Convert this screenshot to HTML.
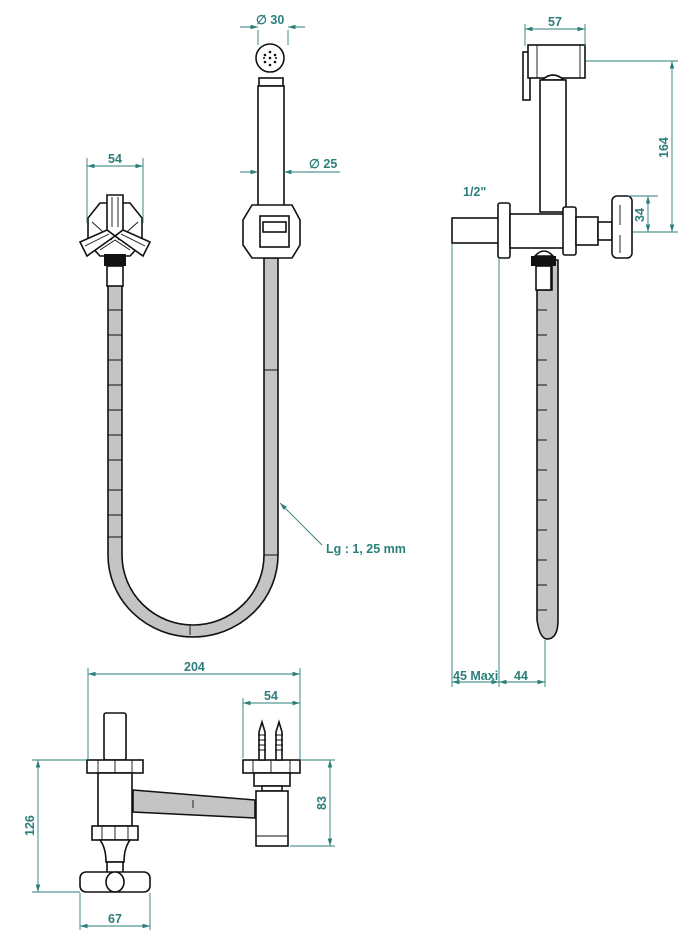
<!DOCTYPE html>
<html><head><meta charset="utf-8"><style>
html,body{margin:0;padding:0;background:#fff;}
svg{display:block;}
.t{font-family:"Liberation Sans",sans-serif;font-weight:bold;font-size:12.5px;fill:#2a7f7a;}
.d{stroke:#2a7f7a;stroke-width:0.9;fill:none;}
.k{stroke:#111;stroke-width:1.6;fill:#fff;}
.h{stroke:#111;stroke-width:1.6;fill:#c4c4c4;}
.l{stroke:#111;stroke-width:0.9;fill:none;}
</style></head><body>
<svg width="690" height="944" viewBox="0 0 690 944" xmlns="http://www.w3.org/2000/svg">
<defs>
<marker id="a" viewBox="0 0 10 6" refX="10" refY="3" markerWidth="9" markerHeight="5" orient="auto-start-reverse"><path d="M0,0 L10,3 L0,6 Z" fill="#2a7f7a"/></marker>
</defs>

<!-- ===== FRONT VIEW ===== -->
<path class="h" d="M108,285 L108,555 A85,82 0 0 0 278,555 L278,258 L264,258 L264,555 A71,70 0 0 1 122,555 L122,285 Z"/>
<g class="l">
<path d="M108,310h14M108,335h14M108,360h14M108,385h14M108,410h14M108,435h14M108,460h14M108,490h14M108,515h14M108,537h14"/>
<path d="M264,370h14M264,555h14M190,625v10"/>
</g>
<!-- left handle -->
<polygon class="k" points="100,203 130,203 142,218 142,243 130,256 100,256 88,243 88,218"/>
<path class="l" d="M92,222l20,18M138,222l-20,18M100,250l15,-10l15,10"/>
<polygon class="k" points="107,195 123,195 123,230 115,236 107,230"/>
<polygon class="k" points="115,236 107,230 80,242 87,256"/>
<polygon class="k" points="115,236 123,230 150,242 143,256"/>
<path class="l" d="M112,197v30M118,197v30M85,246l24,-12M145,246l-24,-12"/>
<rect x="104" y="254" width="22" height="12" fill="#111"/>
<rect class="k" x="107" y="266" width="16" height="20"/>
<!-- hand shower -->
<circle class="k" cx="270" cy="58" r="14"/>
<g fill="#111"><circle cx="270" cy="52" r="1.3"/><circle cx="265" cy="55" r="1.3"/><circle cx="275" cy="55" r="1.3"/><circle cx="270" cy="58" r="1.3"/><circle cx="265" cy="62" r="1.3"/><circle cx="275" cy="62" r="1.3"/><circle cx="270" cy="65" r="1.3"/><circle cx="264" cy="58" r="1"/><circle cx="276" cy="58" r="1"/></g>
<rect class="k" x="259" y="78" width="24" height="8"/>
<rect class="k" x="258" y="86" width="26" height="124"/>
<polygon class="k" points="252,205 292,205 300,220 300,245 292,258 252,258 243,245 243,220"/>
<rect class="k" x="260" y="216" width="29" height="31"/>
<rect class="k" x="263" y="222" width="23" height="10"/>
<!-- dims -->
<path class="d" d="M258,30v15M288,30v15" />
<line class="d" x1="240" y1="27" x2="258" y2="27" marker-end="url(#a)"/>
<line class="d" x1="305" y1="27" x2="288" y2="27" marker-end="url(#a)"/>
<text class="t" x="256" y="24">∅ 30</text>
<line class="d" x1="240" y1="172" x2="258" y2="172" marker-end="url(#a)"/>
<line class="d" x1="340" y1="172" x2="284" y2="172" marker-end="url(#a)"/>
<text class="t" x="309" y="168">∅ 25</text>
<path class="d" d="M87,158v65M143,158v65"/>
<line class="d" x1="87" y1="166" x2="143" y2="166" marker-start="url(#a)" marker-end="url(#a)"/>
<text class="t" x="108" y="163">54</text>
<line class="d" x1="322" y1="545" x2="280" y2="503" marker-end="url(#a)"/>
<text class="t" x="326" y="553">Lg : 1, 25 mm</text>

<!-- ===== SIDE VIEW ===== -->
<rect class="k" x="523" y="52" width="7" height="48"/>
<rect class="k" x="528" y="45" width="57" height="33"/>
<path class="l" d="M537,45v33M580,45v33"/>
<path class="k" d="M542,80 Q553,70 564,80 Z"/>
<rect class="k" x="540" y="80" width="26" height="132"/>
<rect class="k" x="452" y="218" width="48" height="25"/>
<rect class="k" x="498" y="203" width="12" height="55" rx="2"/>
<rect class="k" x="510" y="214" width="55" height="34"/>
<rect class="k" x="563" y="207" width="13" height="48" rx="2"/>
<rect class="k" x="576" y="217" width="22" height="28"/>
<rect class="k" x="598" y="222" width="14" height="18"/>
<rect class="k" x="612" y="196" width="20" height="62" rx="5"/>
<path class="l" d="M620,205v20M620,235v18"/>
<path class="h" d="M537,290 L537,620 Q540,640 548,639 Q558,638 558,620 L558,260 L552,260 L552,290 Z"/>
<g class="l"><path d="M537,310h10M537,335h10M537,360h10M537,385h10M537,410h10M537,440h10M537,470h10M537,500h10M537,530h10M537,560h10M537,585h10M537,610h10"/></g>
<path class="k" d="M535,256 Q544,246 553,256 Z"/>
<rect x="531" y="256" width="25" height="10" fill="#111"/>
<rect class="k" x="536" y="266" width="15" height="24"/>
<text class="t" x="463" y="196">1/2"</text>
<path class="d" d="M525,24v22M585,24v22"/>
<line class="d" x1="525" y1="29" x2="585" y2="29" marker-start="url(#a)" marker-end="url(#a)"/>
<text class="t" x="548" y="26">57</text>
<path class="d" d="M586,61h92M633,232h45M628,196h30"/>
<line class="d" x1="672" y1="61" x2="672" y2="232" marker-start="url(#a)" marker-end="url(#a)"/>
<text class="t" transform="translate(672,148) rotate(-90)" x="-10" y="-4">164</text>
<line class="d" x1="648" y1="196" x2="648" y2="232" marker-start="url(#a)" marker-end="url(#a)"/>
<text class="t" transform="translate(648,214) rotate(-90)" x="-8" y="-4">34</text>
<path class="d" d="M452,244v443M499,259v428M545,640v47"/>
<line class="d" x1="452" y1="682" x2="499" y2="682" marker-start="url(#a)" marker-end="url(#a)"/>
<line class="d" x1="499" y1="682" x2="545" y2="682" marker-start="url(#a)" marker-end="url(#a)"/>
<text class="t" x="453" y="680">45 Maxi</text>
<text class="t" x="514" y="680">44</text>

<!-- ===== TOP VIEW ===== -->
<path class="h" d="M133,790 L255,800 L255,818 L133,812 Z"/>
<path class="l" d="M193,800v8"/>
<rect class="k" x="104" y="713" width="22" height="47" rx="2"/>
<rect class="k" x="87" y="760" width="56" height="13"/>
<path class="l" d="M98,760v13M115,760v13M132,760v13"/>
<rect class="k" x="98" y="773" width="34" height="53"/>
<rect class="k" x="92" y="826" width="46" height="14"/>
<path class="l" d="M102,826v14M115,826v14M128,826v14"/>
<path class="k" d="M100,840 Q106,848 106,862 L124,862 Q124,848 130,840 Z"/>
<rect class="k" x="107" y="862" width="16" height="12"/>
<rect class="k" x="80" y="872" width="70" height="20" rx="6"/>
<ellipse class="k" cx="115" cy="882" rx="9" ry="10"/>
<rect class="k" x="243" y="760" width="57" height="13"/>
<path class="l" d="M253,760v13M271,760v13M290,760v13"/>
<g class="k"><path d="M262,722 L265,732 L265,760 L259,760 L259,732 Z"/><path d="M279,722 L282,732 L282,760 L276,760 L276,732 Z"/></g>
<g class="l"><path d="M258,735h8M258,740h8M258,745h8M258,750h8M275,735h8M275,740h8M275,745h8M275,750h8"/></g>
<rect class="k" x="254" y="773" width="36" height="13"/>
<rect class="k" x="262" y="786" width="20" height="5"/>
<rect class="k" x="256" y="791" width="32" height="55"/>
<path class="l" d="M256,836h32"/>
<path class="d" d="M88,668v92M300,668v92M243,698v60"/>
<line class="d" x1="88" y1="674" x2="300" y2="674" marker-start="url(#a)" marker-end="url(#a)"/>
<text class="t" x="184" y="671">204</text>
<line class="d" x1="243" y1="703" x2="300" y2="703" marker-start="url(#a)" marker-end="url(#a)"/>
<text class="t" x="264" y="700">54</text>
<path class="d" d="M32,760h55M32,892h48M300,760h35M290,846h45"/>
<line class="d" x1="38" y1="760" x2="38" y2="892" marker-start="url(#a)" marker-end="url(#a)"/>
<text class="t" transform="translate(38,826) rotate(-90)" x="-10" y="-4">126</text>
<line class="d" x1="330" y1="760" x2="330" y2="846" marker-start="url(#a)" marker-end="url(#a)"/>
<text class="t" transform="translate(330,803) rotate(-90)" x="-7" y="-4">83</text>
<path class="d" d="M80,893v37M150,893v37"/>
<line class="d" x1="80" y1="926" x2="150" y2="926" marker-start="url(#a)" marker-end="url(#a)"/>
<text class="t" x="108" y="923">67</text>
</svg>
</body></html>
